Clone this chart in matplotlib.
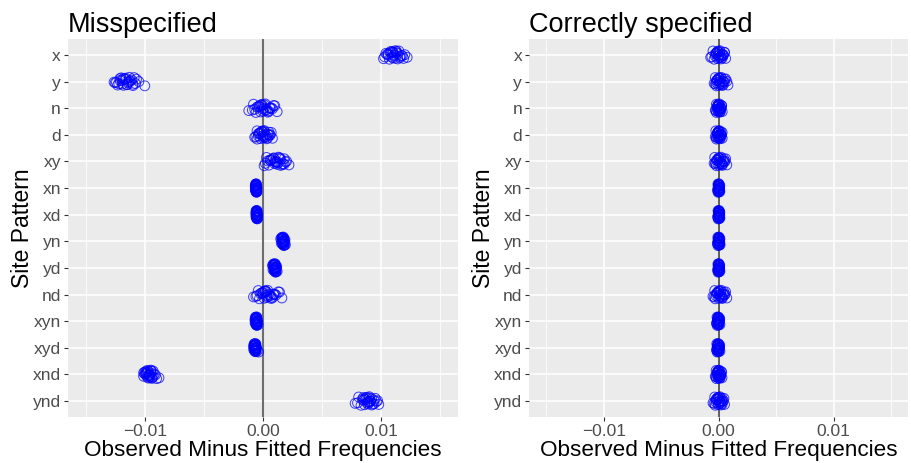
import numpy as np
import matplotlib.pyplot as plt
from matplotlib.ticker import MultipleLocator

plt.rcParams["font.family"] = ["Liberation Sans", "DejaVu Sans"]

# ----------------------------------
# Data (residuals in units of 0.001)
# ----------------------------------
patterns = ["x", "y", "n", "d", "xy", "xn", "xd", "yn", "yd", "nd",
            "xyn", "xyd", "xnd", "ynd"]

# vertical jitter offsets, shared by every site pattern
jitter_y = [0.11, -0.04, 0.15, -0.12, 0.02, 0.07, -0.16, 0.13, -0.08, 0.00,
            0.09, -0.02, -0.14, 0.05, 0.16, -0.10, 0.03, -0.06, 0.12, -0.15,
            0.08, -0.01, 0.14, -0.09, 0.04, -0.13, 0.10, -0.05, 0.01, -0.11]

resid_mis = [
    [11.0, 10.6, 11.4, 10.9, 11.7, 10.3, 11.2, 11.9, 10.8, 11.1, 12.2, 10.5, 11.3, 11.6, 10.7, 11.0, 11.8, 10.4, 11.2, 11.5, 10.9, 12.0, 10.2, 11.3, 11.1, 10.8, 11.6, 11.4, 10.6, 11.0],
    [-11.5, -12.1, -11.0, -11.8, -12.6, -10.8, -11.3, -12.3, -11.6, -10.5, -11.9, -11.2, -12.0, -11.4, -10.0, -11.7, -12.4, -11.1, -11.5, -10.9, -12.2, -11.3, -11.8, -10.7, -12.5, -11.6, -11.0, -11.9, -11.4, -12.1],
    [0.0, -0.5, 0.4, -0.2, 0.8, -0.9, 0.2, 1.2, -0.3, 0.1, -1.2, 0.6, -0.1, 0.3, -0.6, 0.9, 0.0, -0.4, 0.5, -0.8, 0.2, 0.7, -0.2, 1.0, -0.7, 0.1, 0.4, -0.3, 0.6, -0.1],
    [0.0, -0.4, 0.3, -0.1, 0.6, -0.6, 0.1, 0.8, -0.2, 0.2, -0.7, 0.4, -0.1, 0.3, -0.5, 0.5, 0.0, -0.3, 0.4, -0.5, 0.1, 0.6, -0.2, 0.7, -0.4, 0.1, 0.2, -0.3, 0.5, 0.0],
    [1.2, 0.6, 1.5, 0.9, 1.9, 0.2, 1.3, 2.2, 0.8, 1.0, 1.7, 0.4, 1.4, 1.1, 0.1, 1.8, 1.2, 0.7, 1.6, 0.3, 1.0, 2.0, 0.5, 1.5, 1.3, 0.9, 1.8, 0.6, 1.1, 1.4],
    [-0.58, -0.62, -0.55, -0.60, -0.52, -0.64, -0.57, -0.50, -0.61, -0.56, -0.59, -0.53, -0.63, -0.57, -0.54, -0.60, -0.58, -0.65, -0.55, -0.61, -0.56, -0.51, -0.59, -0.62, -0.57, -0.54, -0.60, -0.58, -0.63, -0.56],
    [-0.53, -0.57, -0.50, -0.55, -0.47, -0.59, -0.52, -0.45, -0.56, -0.51, -0.54, -0.48, -0.58, -0.52, -0.49, -0.55, -0.53, -0.60, -0.50, -0.56, -0.51, -0.46, -0.54, -0.57, -0.52, -0.49, -0.55, -0.53, -0.58, -0.51],
    [1.70, 1.62, 1.78, 1.66, 1.84, 1.55, 1.72, 1.90, 1.64, 1.74, 1.68, 1.80, 1.58, 1.71, 1.76, 1.60, 1.69, 1.86, 1.73, 1.63, 1.77, 1.67, 1.82, 1.50, 1.70, 1.75, 1.65, 1.79, 1.61, 1.72],
    [1.00, 0.92, 1.08, 0.96, 1.14, 0.85, 1.02, 1.20, 0.94, 1.04, 0.98, 1.10, 0.88, 1.01, 1.06, 0.90, 0.99, 1.16, 1.03, 0.93, 1.07, 0.97, 1.12, 0.80, 1.00, 1.05, 0.95, 1.09, 0.91, 1.02],
    [0.3, -0.2, 0.7, 0.1, 1.1, -0.6, 0.4, 1.6, 0.0, 0.5, -0.8, 0.9, 0.2, 0.6, -0.3, 1.3, 0.3, -0.1, 0.8, -0.4, 0.4, 1.0, 0.1, 1.4, -0.5, 0.2, 0.7, 0.0, 0.9, 0.3],
    [-0.56, -0.62, -0.50, -0.58, -0.45, -0.66, -0.54, -0.42, -0.60, -0.53, -0.57, -0.48, -0.64, -0.55, -0.51, -0.59, -0.56, -0.68, -0.52, -0.61, -0.54, -0.47, -0.58, -0.63, -0.55, -0.50, -0.60, -0.57, -0.65, -0.53],
    [-0.66, -0.72, -0.60, -0.68, -0.55, -0.78, -0.64, -0.50, -0.70, -0.62, -0.67, -0.57, -0.75, -0.65, -0.36, -0.69, -0.66, -0.80, -0.61, -0.71, -0.63, -0.56, -0.68, -0.74, -0.64, -0.59, -0.70, -0.67, -0.76, -0.62],
    [-9.6, -9.9, -9.4, -9.7, -9.1, -10.1, -9.5, -8.8, -9.8, -9.6, -9.3, -10.0, -9.5, -9.7, -9.0, -9.9, -9.6, -10.1, -9.4, -9.8, -9.5, -9.2, -9.7, -10.0, -9.6, -9.3, -9.8, -9.5, -9.9, -9.4],
    [8.9, 8.5, 9.2, 8.7, 9.6, 8.0, 9.0, 9.8, 8.6, 9.1, 7.8, 9.4, 8.8, 9.0, 8.3, 9.5, 8.9, 8.4, 9.3, 8.1, 8.8, 9.7, 8.6, 9.2, 8.9, 8.5, 9.4, 8.7, 9.1, 9.0],
]

resid_cor = [
    [0.0, -0.3, 0.2, -0.1, 0.4, -0.6, 0.1, 0.6, -0.2, 0.0, -0.7, 0.3, -0.1, 0.2, -0.4, 0.5, 0.0, -0.2, 0.3, -0.5, 0.1, 0.4, -0.1, 0.5, -0.3, 0.1, 0.2, -0.2, 0.3, 0.0],
    [0.1, -0.2, 0.3, 0.0, 0.5, -0.4, 0.2, 0.8, -0.1, 0.1, -0.3, 0.4, 0.0, 0.3, -0.2, 0.6, 0.1, -0.1, 0.4, -0.3, 0.2, 0.7, 0.0, 0.5, -0.2, 0.2, 0.3, -0.1, 0.4, 0.1],
    [0.0, -0.15, 0.1, -0.05, 0.2, -0.3, 0.05, 0.3, -0.1, 0.0, -0.25, 0.15, -0.05, 0.1, -0.2, 0.25, 0.0, -0.1, 0.15, -0.2, 0.05, 0.2, -0.05, 0.25, -0.15, 0.05, 0.1, -0.1, 0.15, 0.0],
    [0.0, -0.15, 0.1, -0.05, 0.25, -0.3, 0.05, 0.3, -0.1, 0.05, -0.2, 0.15, 0.0, 0.1, -0.2, 0.2, 0.0, -0.1, 0.15, -0.25, 0.05, 0.2, -0.05, 0.3, -0.15, 0.05, 0.1, -0.1, 0.2, 0.0],
    [0.1, -0.2, 0.3, 0.0, 0.5, -0.4, 0.2, 0.7, -0.1, 0.1, -0.3, 0.4, 0.0, 0.2, -0.2, 0.6, 0.1, -0.1, 0.3, -0.35, 0.2, 0.55, 0.0, 0.45, -0.25, 0.15, 0.3, -0.1, 0.4, 0.05],
    [0.0, -0.05, 0.04, -0.02, 0.08, -0.1, 0.02, 0.1, -0.04, 0.01, -0.08, 0.05, -0.01, 0.03, -0.06, 0.07, 0.0, -0.03, 0.05, -0.07, 0.02, 0.06, -0.02, 0.09, -0.05, 0.01, 0.04, -0.03, 0.06, 0.0],
    [0.01, -0.04, 0.05, -0.01, 0.09, -0.08, 0.03, 0.1, -0.03, 0.02, -0.09, 0.06, 0.0, 0.04, -0.05, 0.08, 0.01, -0.02, 0.06, -0.06, 0.03, 0.07, -0.01, 0.09, -0.04, 0.02, 0.05, -0.02, 0.07, 0.01],
    [0.0, -0.06, 0.05, -0.02, 0.09, -0.12, 0.03, 0.12, -0.04, 0.01, -0.09, 0.06, -0.01, 0.04, -0.07, 0.08, 0.0, -0.03, 0.06, -0.08, 0.02, 0.07, -0.02, 0.10, -0.05, 0.02, 0.05, -0.03, 0.07, 0.0],
    [0.01, -0.05, 0.03, -0.02, 0.08, -0.09, 0.02, 0.1, -0.04, 0.0, -0.08, 0.05, -0.01, 0.04, -0.06, 0.07, 0.01, -0.03, 0.05, -0.07, 0.02, 0.06, -0.02, 0.08, -0.05, 0.01, 0.04, -0.03, 0.06, 0.0],
    [0.1, -0.2, 0.3, 0.0, 0.5, -0.5, 0.2, 0.7, -0.1, 0.1, -0.4, 0.4, 0.0, 0.2, -0.3, 0.6, 0.1, -0.1, 0.3, -0.35, 0.2, 0.55, 0.0, 0.45, -0.25, 0.15, 0.3, -0.15, 0.4, 0.05],
    [-0.05, -0.12, 0.0, -0.08, 0.06, -0.2, -0.03, 0.1, -0.1, -0.04, -0.17, 0.03, -0.06, -0.01, -0.14, 0.08, -0.05, -0.09, 0.02, -0.15, -0.02, 0.05, -0.07, 0.07, -0.11, -0.03, 0.01, -0.08, 0.04, -0.05],
    [-0.06, -0.13, 0.0, -0.09, 0.05, -0.2, -0.04, 0.1, -0.1, -0.03, -0.16, 0.03, -0.07, 0.0, -0.14, 0.07, -0.05, -0.1, 0.02, -0.17, -0.02, 0.06, -0.08, 0.08, -0.12, -0.03, 0.01, -0.09, 0.04, -0.05],
    [-0.02, -0.17, 0.08, -0.07, 0.2, -0.3, 0.03, 0.28, -0.12, 0.0, -0.24, 0.13, -0.06, 0.1, -0.2, 0.22, -0.01, -0.1, 0.14, -0.22, 0.04, 0.18, -0.04, 0.25, -0.16, 0.06, 0.09, -0.11, 0.16, 0.01],
    [0.0, -0.25, 0.2, -0.1, 0.35, -0.5, 0.1, 0.5, -0.2, 0.05, -0.4, 0.25, -0.05, 0.15, -0.3, 0.45, 0.0, -0.15, 0.3, -0.35, 0.1, 0.4, -0.05, 0.3, -0.25, 0.1, 0.2, -0.15, 0.25, 0.0],
]

x_ticks = [-0.01, 0.0, 0.01]
x_ticklabels = ["\u22120.01", "0.00", "0.01"]

# ----------------------------------
# Figure
# ----------------------------------
fig = plt.figure(figsize=(9.11, 4.63), dpi=100)
ax_l = fig.add_axes([0.0746, 0.0994, 0.4281, 0.8164])
ax_r = fig.add_axes([0.5807, 0.0994, 0.4165, 0.8164])


def draw_panel(ax, resid, title, vline_color, vline_width):
    ax.set_facecolor("#EBEBEB")
    for s in ax.spines.values():
        s.set_visible(False)

    ax.set_xlim(-0.0165, 0.0165)
    ax.set_ylim(len(patterns) - 0.4, -0.6)

    ax.xaxis.set_major_locator(MultipleLocator(0.01))
    ax.xaxis.set_minor_locator(MultipleLocator(0.005))
    ax.set_xticks(x_ticks)
    ax.set_xticklabels(x_ticklabels)
    ax.set_yticks(np.arange(len(patterns)))
    ax.set_yticklabels(patterns)

    ax.grid(which="major", color="white", linewidth=1.1)
    ax.grid(which="minor", axis="x", color="white", linewidth=0.55)
    ax.set_axisbelow(True)

    ax.tick_params(axis="both", which="major", length=3, width=0.8,
                   color="#333333", labelcolor="#4D4D4D", labelsize=12.5, pad=2)
    ax.tick_params(axis="both", which="minor", length=0)

    ax.axvline(0, color=vline_color, linewidth=vline_width, zorder=2)

    for i, vals in enumerate(resid):
        xs = np.array(vals) * 1e-3
        ys = i + np.array(jitter_y[:len(vals)])
        ax.scatter(xs, ys, s=50, facecolors="none", edgecolors="blue",
                   linewidths=0.7, alpha=0.75, zorder=3)

    ax.set_xlabel("Observed Minus Fitted Frequencies", fontsize=16.2, labelpad=1)
    ax.set_ylabel("Site Pattern", fontsize=16.5, labelpad=-1)
    ax.set_title(title, fontsize=19.5, loc="left", pad=5)


draw_panel(ax_l, resid_mis, "Misspecified", "#6E6E6E", 1.5)
draw_panel(ax_r, resid_cor, "Correctly specified", "#333333", 1.1)

fig.savefig("out.png", dpi=100)
